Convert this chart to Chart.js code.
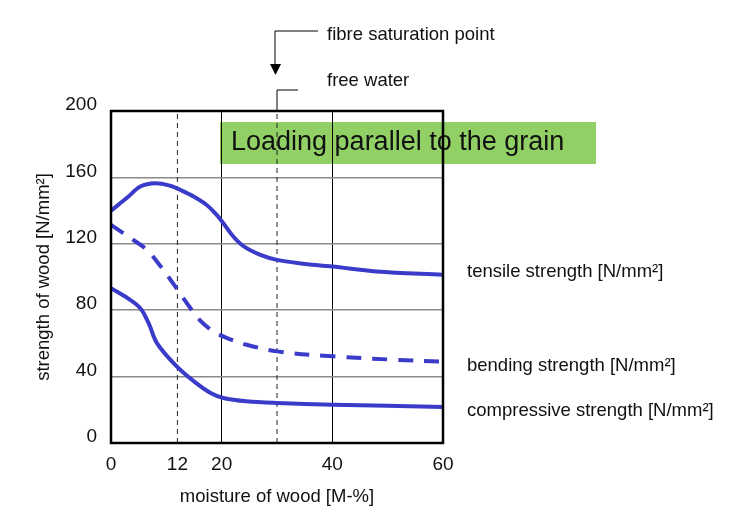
<!DOCTYPE html>
<html>

<head>
    <meta charset="UTF-8">
    <title>Strength of wood vs moisture</title>
    <script src="https://cdn.jsdelivr.net/npm/chart.js@4.4.0/dist/chart.umd.min.js"></script>
    <style>
        body { margin: 0; background: #fff; }
    </style>
</head>

<body>
    <canvas id="chart" width="736" height="518"></canvas>
    <script>
        // values (moisture in M-%, strength in N/mm2)
        const tensileX = [0, 3, 5.3, 8, 10.7, 12.5, 15, 17.3, 19.1, 20.3, 22.1, 24, 27, 30, 34, 40, 48, 60];
        const tensileY = [140, 148, 154.5, 156.5, 155, 152.5, 148.4, 143.4, 137.4, 132.4, 124.4, 118.4, 113.3, 110.3, 108.3, 106.3, 103.3, 101.3];

        const bendingX = [0, 4, 6.5, 9, 11.6, 13.7, 16, 18.5, 21, 24.5, 30, 40, 51, 60];
        const bendingY = [131.4, 122.4, 116.3, 106.3, 94.3, 84.3, 74.2, 67.2, 63.2, 59.2, 55.2, 52.2, 50.2, 49];

        const compressiveX = [0, 3, 5.3, 6.8, 8.3, 11.6, 15, 18, 20.3, 24.5, 30, 40, 60];
        const compressiveY = [93.3, 87.3, 81.2, 72.2, 60.2, 47.1, 37.1, 30.1, 27.1, 25.1, 24.1, 23.1, 21.7];

        const xTicks = [0, 12, 20, 40, 60];
        const yTicks = [0, 40, 80, 120, 160, 200];
        const dashedX = [12, 30]; // 12 % and fibre saturation point

        const seriesLabels = ['tensile strength [N/mm²]', 'bending strength [N/mm²]', 'compressive strength [N/mm²]'];

        const blue = '#3b3bc9';
        const font = 'Liberation Sans, Arial, sans-serif';

        function points(xs, ys) {
            return xs.map((x, i) => ({ x: x, y: ys[i] }));
        }

        function curve(label, xs, ys, dash) {
            return {
                label: label,
                data: points(xs, ys),
                borderColor: blue,
                borderWidth: 4,
                borderDash: dash,
                tension: 0.35,
                pointRadius: 0,
                fill: false,
                order: 0
            };
        }

        const datasets = [
            curve(seriesLabels[0], tensileX, tensileY, []),
            curve(seriesLabels[1], bendingX, bendingY, [15, 11]),
            curve(seriesLabels[2], compressiveX, compressiveY, [])
        ];
        dashedX.forEach(v => {
            datasets.push({
                label: 'ref ' + v,
                data: [{ x: v, y: 0 }, { x: v, y: 200 }],
                borderColor: '#222',
                borderWidth: 1,
                borderDash: [5, 4],
                pointRadius: 0,
                order: 10
            });
        });

        const decorations = {
            id: 'decorations',
            beforeDraw(chart) {
                const ctx = chart.ctx;
                ctx.save();
                ctx.fillStyle = '#90d064';
                ctx.fillRect(220, 122, 376, 42);
                ctx.fillStyle = '#111';
                ctx.font = '27px ' + font;
                ctx.textBaseline = 'middle';
                ctx.fillText('Loading parallel to the grain', 231, 143);
                ctx.restore();
            },
            afterDraw(chart) {
                const ctx = chart.ctx;
                const a = chart.chartArea;
                const xs = chart.scales.x;
                ctx.save();

                // frame
                ctx.strokeStyle = '#000';
                ctx.lineWidth = 2.5;
                ctx.strokeRect(a.left, a.top, a.right - a.left, a.bottom - a.top);

                // series labels to the right
                ctx.fillStyle = '#111';
                ctx.font = '18.5px ' + font;
                ctx.textBaseline = 'middle';
                ctx.fillText(seriesLabels[0], 467, 272);
                ctx.fillText(seriesLabels[1], 467, 366);
                ctx.fillText(seriesLabels[2], 467, 411);

                // fibre saturation point / free water
                const fx = xs.getPixelForValue(30);
                ctx.fillText('fibre saturation point', 327, 35);
                ctx.fillText('free water', 327, 81);

                ctx.lineWidth = 1;
                ctx.beginPath();
                ctx.moveTo(318, 31);
                ctx.lineTo(275, 31);
                ctx.lineTo(275, 65);
                ctx.stroke();
                ctx.beginPath();
                ctx.moveTo(270, 64);
                ctx.lineTo(281, 64);
                ctx.lineTo(275.5, 75);
                ctx.closePath();
                ctx.fillStyle = '#000';
                ctx.fill();

                ctx.beginPath();
                ctx.moveTo(298, 90);
                ctx.lineTo(fx, 90);
                ctx.lineTo(fx, a.top);
                ctx.stroke();

                ctx.restore();
            }
        };

        new Chart(document.getElementById('chart'), {
            type: 'line',
            data: { datasets: datasets },
            options: {
                responsive: false,
                animation: false,
                devicePixelRatio: 1,
                layout: { padding: { left: 0, top: 111, right: 293, bottom: 0 } },
                plugins: { legend: { display: false }, tooltip: { enabled: false } },
                events: [],
                scales: {
                    x: {
                        type: 'linear',
                        min: 0,
                        max: 60,
                        afterBuildTicks: s => { s.ticks = xTicks.map(v => ({ value: v })); },
                        afterFit: s => { s.height = 75; },
                        border: { display: false },
                        grid: {
                            drawTicks: false,
                            color: c => (c.tick && (c.tick.value === 20 || c.tick.value === 40)) ? '#000' : 'rgba(0,0,0,0)',
                            lineWidth: 1
                        },
                        ticks: {
                            padding: 10,
                            color: '#111',
                            font: { family: font, size: 19 },
                            maxRotation: 0
                        },
                        title: {
                            display: true,
                            text: 'moisture of wood [M-%]',
                            color: '#111',
                            font: { family: font, size: 18.5 },
                            padding: { top: 0, bottom: 10 }
                        }
                    },
                    y: {
                        type: 'linear',
                        min: 0,
                        max: 200,
                        afterBuildTicks: s => { s.ticks = yTicks.map(v => ({ value: v })); },
                        afterFit: s => { s.width = 111; },
                        border: { display: false },
                        grid: {
                            drawTicks: false,
                            color: c => (c.tick && c.tick.value > 0 && c.tick.value < 200) ? '#8a8a8a' : 'rgba(0,0,0,0)',
                            lineWidth: 1.5
                        },
                        ticks: {
                            padding: 14,
                            labelOffset: -6,
                            color: '#111',
                            font: { family: font, size: 19 }
                        },
                        title: {
                            display: true,
                            text: 'strength of wood [N/mm²]',
                            color: '#111',
                            font: { family: font, size: 18.5 },
                            padding: { top: 33, bottom: 0 }
                        }
                    }
                }
            },
            plugins: [decorations]
        });
    </script>
</body>

</html>
